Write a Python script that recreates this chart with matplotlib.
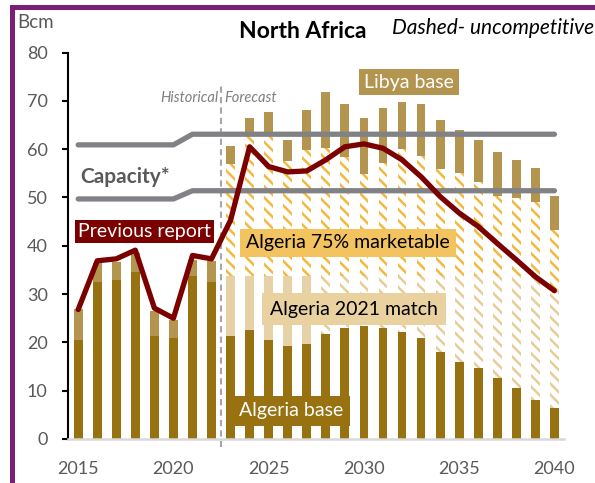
import numpy as np
import matplotlib
matplotlib.use("Agg")
import matplotlib.pyplot as plt
from matplotlib.patches import Rectangle

plt.rcParams['font.family'] = ['Lato', 'DejaVu Sans']
plt.rcParams['hatch.linewidth'] = 1.8

# ---- data (Bcm) ----
years = np.arange(2015, 2041)
first_forecast = 2023
last_solid_match = 2027

algeria_base = [20.5, 32.6, 32.9, 34.6, 21.3, 20.9, 33.7, 32.5,
                21.3, 22.6, 20.5, 19.3, 19.7, 21.7, 23.0, 23.4, 23.0, 22.2,
                21.0, 18.0, 15.9, 14.8, 12.7, 10.6, 8.1, 6.4]
algeria_2021_match = [0, 0, 0, 0, 0, 0, 0, 0,
                      12.5, 11.2, 13.3, 14.5, 14.1, 12.1, 10.8, 10.4, 10.8, 11.6,
                      12.8, 15.8, 17.9, 19.0, 21.1, 23.2, 25.7, 24.6]
algeria_75_marketable = [0, 0, 0, 0, 0, 0, 0, 0,
                         23.2, 29.2, 29.2, 23.7, 26.0, 26.5, 24.5, 21.0, 23.3, 26.2,
                         24.8, 22.2, 21.2, 19.5, 16.6, 16.0, 15.3, 12.3]
libya_base = [6.4, 3.8, 3.8, 3.9, 5.1, 3.7, 3.3, 4.4,
              3.7, 3.5, 4.7, 4.4, 8.3, 11.5, 11.1, 11.6, 11.4, 9.7,
              10.7, 10.0, 9.0, 8.6, 9.0, 8.0, 7.0, 7.0]
previous_report = [26.8, 36.9, 37.3, 39.1, 27.1, 25.0, 38.0, 37.3,
                   45.3, 60.5, 56.4, 55.3, 55.5, 57.8, 60.5, 61.1, 60.2, 57.8,
                   54.3, 50.2, 46.8, 44.0, 40.5, 37.1, 33.6, 30.7]
capacity_low = [49.7] * 6 + [51.4] * 20
capacity_high = [60.9] * 6 + [63.1] * 20

# ---- colours ----
c_base = '#987211'
c_libya = '#B3954F'
c_match = '#E6D2A6'
c_match_hatch = '#E8CC98'
c_yellow = '#F2C35F'
c_yellow_hatch = '#F3B93E'
c_prev = '#7B0000'
c_cap = '#808285'
c_text = '#595959'

fig = plt.figure(figsize=(5.95, 4.83), dpi=100)
ax = fig.add_axes([0.1138, 0.0911, 0.834, 0.800])

base = np.array(algeria_base)
match = np.array(algeria_2021_match)
yellow = np.array(algeria_75_marketable)
libya = np.array(libya_base)
w = 0.46

ax.bar(years, base, width=w, color=c_base, linewidth=0)

solid = years <= last_solid_match
ax.bar(years[solid], match[solid], bottom=base[solid], width=w,
       color=c_match, linewidth=0)
ax.bar(years[~solid], match[~solid], bottom=base[~solid], width=w,
       facecolor='white', edgecolor=c_match_hatch, hatch='\\\\\\', linewidth=0)

ax.bar(years, yellow, bottom=base + match, width=w,
       facecolor='white', edgecolor=c_yellow_hatch, hatch='\\\\\\', linewidth=0)
ax.bar(years, libya, bottom=base + match + yellow, width=w,
       color=c_libya, linewidth=0)

# capacity lines
ax.plot(years, capacity_high, color=c_cap, lw=3.8, solid_capstyle='round', zorder=3)
ax.plot(years, capacity_low, color=c_cap, lw=3.8, solid_capstyle='round', zorder=3)

# previous report
ax.plot(years, previous_report, color=c_prev, lw=3.8, solid_capstyle='round', zorder=4)

# historical / forecast divider
ax.plot([first_forecast - 0.5] * 2, [-1.7, 73.7], color='#A6A6A6', lw=1.5,
        ls=(0, (3, 2)), clip_on=False, zorder=2)
ax.text(first_forecast - 0.65, 70.6, 'Historical', style='italic', color='#7F7F7F',
        fontsize=10.5, ha='right', va='center')
ax.text(first_forecast - 0.35, 70.6, 'Forecast', style='italic', color='#7F7F7F',
        fontsize=10.5, ha='left', va='center')

# labels
ax.text(2015.1, 54.2, 'Capacity*', color=c_text, fontsize=15, fontweight='bold',
        ha='left', va='center', zorder=5)
ax.text(2032.37, 73.9, 'Libya base', color='white', fontsize=14, ha='center', va='center',
        bbox=dict(boxstyle='square,pad=0.25', fc=c_libya, ec='none'), zorder=5)
ax.text(2018.49, 42.9, 'Previous report', color='white', fontsize=14, ha='center',
        va='center', bbox=dict(boxstyle='square,pad=0.15', fc=c_prev, ec='none'), zorder=5)
ax.text(2029.17, 40.6, 'Algeria 75% marketable', color='black', fontsize=14,
        ha='center', va='center',
        bbox=dict(boxstyle='square,pad=0.3', fc=c_yellow, ec='none'), zorder=5)
ax.text(2029.48, 26.9, 'Algeria 2021 match', color='black', fontsize=14,
        ha='center', va='center',
        bbox=dict(boxstyle='square,pad=0.4', fc='#E9D29F', ec='none'), zorder=5)
ax.text(2026.19, 5.8, 'Algeria base', color='white', fontsize=14, ha='center',
        va='center', bbox=dict(boxstyle='square,pad=0.35', fc=c_base, ec='none'), zorder=5)

# axes styling
ax.set_xlim(2014.45, 2040.5)
ax.set_ylim(0, 80)
ax.set_yticks(np.arange(0, 81, 10))
ax.set_xticks([2015, 2020, 2025, 2030, 2035, 2040])
for s in ['top', 'right']:
    ax.spines[s].set_visible(False)
ax.spines['left'].set_color('black')
ax.spines['left'].set_linewidth(1.5)
ax.spines['bottom'].set_color('#D9D9D9')
ax.spines['bottom'].set_linewidth(1.8)
ax.tick_params(axis='y', length=4.5, width=1.5, color='black', pad=10,
               labelsize=13, labelcolor=c_text)
ax.tick_params(axis='x', length=0, pad=16, labelsize=13, labelcolor=c_text)

# titles
fig.text(0.509, 0.934, 'North Africa', fontsize=16.5, fontweight='bold', ha='center',
         va='center')
fig.text(0.659, 0.942, 'Dashed- uncompetitive', fontsize=15, style='italic',
         ha='left', va='center')
fig.text(0.0286, 0.954, 'Bcm', fontsize=13.5, color=c_text, ha='left', va='center')

# purple frame
fig.patches.append(Rectangle((0.0202, -0.0031), 1.1, 0.9896, transform=fig.transFigure,
                             fill=False, ec='#7A1E78', lw=3.6, clip_on=False))

fig.savefig('out.png', dpi=100)
